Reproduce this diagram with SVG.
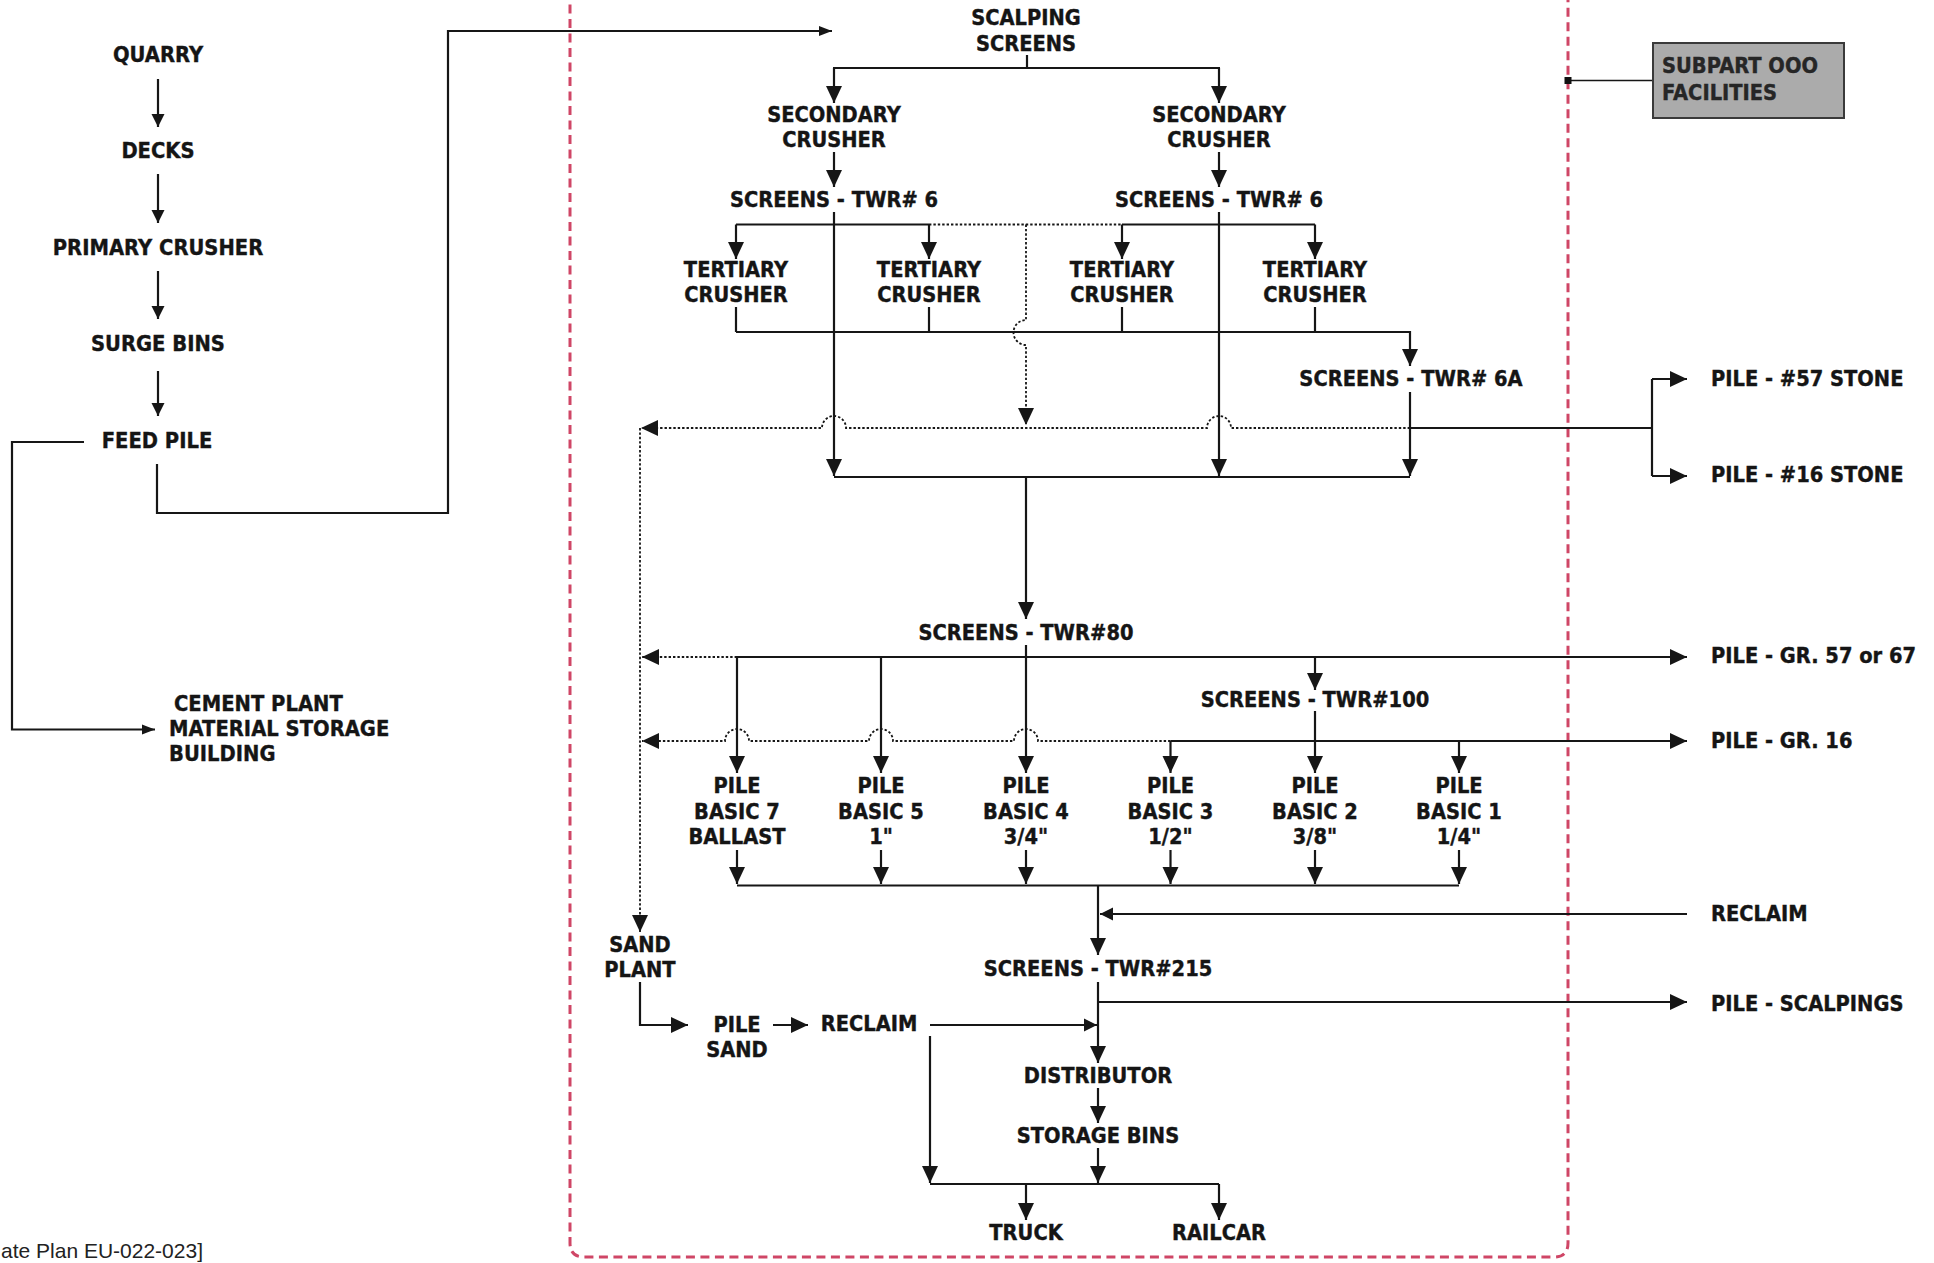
<svg xmlns="http://www.w3.org/2000/svg" width="1934" height="1263" viewBox="0 0 1934 1263">
  <style>
    text { font-family: "DejaVu Sans", "Liberation Sans", sans-serif; font-weight: 700; fill: #151515; stroke: #151515; stroke-width: 0.4px; }
    .m { font-size: 20.5px; text-anchor: middle; transform-box: fill-box; transform-origin: 50% 50%; transform: scaleX(0.95); }
    .l { font-size: 22px; text-anchor: middle; transform-box: fill-box; transform-origin: 50% 50%; transform: scaleX(0.89); }
    .r { font-size: 20.5px; text-anchor: start; transform-box: fill-box; transform-origin: 0 50%; transform: scaleX(0.95); }
    .c { font-size: 22px; text-anchor: start; transform-box: fill-box; transform-origin: 0 50%; transform: scaleX(0.89); }
    .note { font-family: "Liberation Sans", Arial, sans-serif; font-weight: 400; font-size: 21px; fill: #222; stroke: none; }
    .ln { fill: none; stroke: #161616; stroke-width: 2.2; }
    .dt { fill: none; stroke: #161616; stroke-width: 1.8; stroke-dasharray: 2.4 2; }
    .a { marker-end: url(#ah); }
    .as { marker-end: url(#as); }
    .at { marker-end: url(#at); }
    .boundary { fill: none; stroke: #cf4666; stroke-width: 3; stroke-dasharray: 9 5.5; }
  </style>
  <defs>
    <marker id="ah" markerUnits="userSpaceOnUse" markerWidth="18" markerHeight="16" refX="17" refY="8" orient="auto" overflow="visible">
      <path d="M0,0 L17,8 L0,16 Z" fill="#161616"/>
    </marker>
    <marker id="as" markerUnits="userSpaceOnUse" markerWidth="13" markerHeight="13" refX="13" refY="6.5" orient="auto" overflow="visible">
      <path d="M0,0 L13,6.5 L0,13 Z" fill="#161616"/>
    </marker>
    <marker id="at" markerUnits="userSpaceOnUse" markerWidth="13" markerHeight="10" refX="13" refY="5" orient="auto" overflow="visible">
      <path d="M0,0 L13,5 L0,10 Z" fill="#161616"/>
    </marker>
  </defs>

  <rect width="1934" height="1263" fill="#ffffff"/>

  <!-- Subpart OOO boundary -->
  <path class="boundary" d="M570,-10 V1243 Q570,1257 584,1257 H1554 Q1568,1257 1568,1243 V-10"/>

  <!-- connectors -->
  <g id="connectors">
    <!-- left column -->
    <path class="ln as" d="M158,79 V127"/>
    <path class="ln as" d="M158,174 V223"/>
    <path class="ln as" d="M158,271 V319"/>
    <path class="ln as" d="M158,371 V416"/>
    <path class="ln at" d="M84,442 H12 V729.5 H155"/>
    <path class="ln at" d="M157,464 V513 H448 V31 H832"/>

    <!-- scalping to secondary -->
    <path class="ln" d="M1027,55 V68"/>
    <path class="ln" d="M833,68 H1220"/>
    <path class="ln a" d="M834,68 V103"/>
    <path class="ln a" d="M1219,68 V103"/>
    <path class="ln a" d="M834,152 V187"/>
    <path class="ln a" d="M1219,152 V187"/>

    <!-- tower 6 bypass legs -->
    <path class="ln a" d="M834,212 V476"/>
    <path class="ln a" d="M1219,212 V476"/>

    <!-- tertiary feeds -->
    <path class="ln" d="M736,224.5 H929"/>
    <path class="ln" d="M1122,224.5 H1315"/>
    <path class="dt" d="M929,224.5 H1122"/>
    <path class="ln a" d="M736,224.5 V259"/>
    <path class="ln a" d="M929,224.5 V259"/>
    <path class="ln a" d="M1122,224.5 V259"/>
    <path class="ln a" d="M1315,224.5 V259"/>
    <path class="ln" d="M736,307 V332 M929,307 V332 M1122,307 V332 M1315,307 V332"/>
    <path class="ln a" d="M736,332 H1410 V366"/>
    <path class="ln a" d="M1410,392 V476"/>
    <path class="ln" d="M834,477 H1410"/>

    <!-- dotted return lines -->
    <path class="dt a" d="M1026,224.5 V320 A12.5,12.5 0 0 0 1026,345 V425"/>
    <path class="dt a" d="M1410,428 H1231 A12,12 0 0 0 1207,428 H846 A12,12 0 0 0 822,428 H641"/>
    <path class="dt a" d="M640,428 V932"/>

    <!-- tower 6A to stone piles -->
    <path class="ln" d="M1410,428 H1652"/>
    <path class="ln" d="M1652,379 V476"/>
    <path class="ln a" d="M1652,379 H1687"/>
    <path class="ln a" d="M1652,476 H1687"/>

    <!-- tower 80 -->
    <path class="ln a" d="M1026,477 V619"/>
    <path class="ln a" d="M1026,645 V773"/>
    <path class="dt a" d="M737,657 H642"/>
    <path class="ln a" d="M737,657 H1687"/>
    <path class="ln a" d="M737,657 V773"/>
    <path class="ln a" d="M881,657 V773"/>
    <path class="ln a" d="M1315,657 V690"/>
    <path class="ln a" d="M1315,711 V773"/>

    <!-- tower 100 -->
    <path class="dt a" d="M1170.5,741 H1038 A12,12 0 0 0 1014,741 H893 A12,12 0 0 0 869,741 H749 A12,12 0 0 0 725,741 H642"/>
    <path class="ln a" d="M1170.5,741 H1687"/>
    <path class="ln a" d="M1170.5,741 V773"/>
    <path class="ln a" d="M1459,741 V773"/>

    <!-- basic piles to tower 215 -->
    <path class="ln a" d="M737,850 V884"/>
    <path class="ln a" d="M881,850 V884"/>
    <path class="ln a" d="M1026,850 V884"/>
    <path class="ln a" d="M1170.5,850 V884"/>
    <path class="ln a" d="M1315,850 V884"/>
    <path class="ln a" d="M1459,850 V884"/>
    <path class="ln" d="M737,885.5 H1459"/>
    <path class="ln a" d="M1098,885.5 V955"/>
    <path class="ln as" d="M1687,914 H1100"/>
    <path class="ln a" d="M1098,982 V1063"/>
    <path class="ln a" d="M1098,1002 H1687"/>

    <!-- sand circuit -->
    <path class="ln a" d="M640,982 V1025 H688"/>
    <path class="ln a" d="M773,1025 H808"/>
    <path class="ln as" d="M930,1025 H1097"/>
    <path class="ln a" d="M930,1036 V1183"/>

    <!-- loadout -->
    <path class="ln a" d="M1098,1088 V1123"/>
    <path class="ln a" d="M1098,1148 V1183"/>
    <path class="ln" d="M930,1184 H1219"/>
    <path class="ln a" d="M1026,1184 V1220"/>
    <path class="ln a" d="M1219,1184 V1220"/>

    <!-- legend leader -->
    <path class="ln" style="stroke-width:1.6" d="M1568,80.5 H1653"/>
    <rect x="1564.5" y="77" width="7" height="7" fill="#111"/>
  </g>

  <!-- upstream nodes -->
  <g id="quarry"><text class="l" x="158" y="62">QUARRY</text></g>
  <g id="decks"><text class="l" x="158" y="158.5">DECKS</text></g>
  <g id="primary-crusher"><text class="l" x="158" y="255">PRIMARY CRUSHER</text></g>
  <g id="surge-bins"><text class="l" x="158" y="351">SURGE BINS</text></g>
  <g id="feed-pile"><text class="l" x="157" y="448">FEED PILE</text></g>
  <g id="cement-plant">
    <text class="c" x="174" y="711">CEMENT PLANT</text>
    <text class="c" x="169" y="736.5">MATERIAL STORAGE</text>
    <text class="c" x="169" y="761.5">BUILDING</text>
  </g>

  <!-- screening and crushing -->
  <g id="scalping-screens">
    <text class="m" x="1026" y="25">SCALPING</text>
    <text class="m" x="1026" y="51">SCREENS</text>
  </g>
  <g id="secondary-crusher-1">
    <text class="m" x="834" y="122.5">SECONDARY</text>
    <text class="m" x="834" y="147.5">CRUSHER</text>
  </g>
  <g id="secondary-crusher-2">
    <text class="m" x="1219" y="122.5">SECONDARY</text>
    <text class="m" x="1219" y="147.5">CRUSHER</text>
  </g>
  <g id="screens-twr6-1"><text class="m" x="834" y="207.5">SCREENS - TWR# 6</text></g>
  <g id="screens-twr6-2"><text class="m" x="1219" y="207.5">SCREENS - TWR# 6</text></g>
  <g id="tertiary-crusher-1">
    <text class="m" x="736" y="277.5">TERTIARY</text>
    <text class="m" x="736" y="302.5">CRUSHER</text>
  </g>
  <g id="tertiary-crusher-2">
    <text class="m" x="929" y="277.5">TERTIARY</text>
    <text class="m" x="929" y="302.5">CRUSHER</text>
  </g>
  <g id="tertiary-crusher-3">
    <text class="m" x="1122" y="277.5">TERTIARY</text>
    <text class="m" x="1122" y="302.5">CRUSHER</text>
  </g>
  <g id="tertiary-crusher-4">
    <text class="m" x="1315" y="277.5">TERTIARY</text>
    <text class="m" x="1315" y="302.5">CRUSHER</text>
  </g>
  <g id="screens-twr6a"><text class="m" x="1411" y="386">SCREENS - TWR# 6A</text></g>
  <g id="screens-twr80"><text class="m" x="1026" y="640">SCREENS - TWR#80</text></g>
  <g id="screens-twr100"><text class="m" x="1315" y="707.5">SCREENS - TWR#100</text></g>

  <!-- basic piles -->
  <g id="pile-basic-7">
    <text class="m" x="737" y="793">PILE</text>
    <text class="m" x="737" y="819">BASIC 7</text>
    <text class="m" x="737" y="844">BALLAST</text>
  </g>
  <g id="pile-basic-5">
    <text class="m" x="881" y="793">PILE</text>
    <text class="m" x="881" y="819">BASIC 5</text>
    <text class="m" x="881" y="844">1"</text>
  </g>
  <g id="pile-basic-4">
    <text class="m" x="1026" y="793">PILE</text>
    <text class="m" x="1026" y="819">BASIC 4</text>
    <text class="m" x="1026" y="844">3/4"</text>
  </g>
  <g id="pile-basic-3">
    <text class="m" x="1170.5" y="793">PILE</text>
    <text class="m" x="1170.5" y="819">BASIC 3</text>
    <text class="m" x="1170.5" y="844">1/2"</text>
  </g>
  <g id="pile-basic-2">
    <text class="m" x="1315" y="793">PILE</text>
    <text class="m" x="1315" y="819">BASIC 2</text>
    <text class="m" x="1315" y="844">3/8"</text>
  </g>
  <g id="pile-basic-1">
    <text class="m" x="1459" y="793">PILE</text>
    <text class="m" x="1459" y="819">BASIC 1</text>
    <text class="m" x="1459" y="844">1/4"</text>
  </g>

  <!-- sand and loadout -->
  <g id="sand-plant">
    <text class="m" x="640" y="952">SAND</text>
    <text class="m" x="640" y="977.5">PLANT</text>
  </g>
  <g id="pile-sand">
    <text class="m" x="737" y="1032.5">PILE</text>
    <text class="m" x="737" y="1057.5">SAND</text>
  </g>
  <g id="reclaim-sand"><text class="m" x="869" y="1031.5">RECLAIM</text></g>
  <g id="screens-twr215"><text class="m" x="1098" y="976.5">SCREENS - TWR#215</text></g>
  <g id="distributor"><text class="m" x="1098" y="1083">DISTRIBUTOR</text></g>
  <g id="storage-bins"><text class="m" x="1098" y="1143">STORAGE BINS</text></g>
  <g id="truck"><text class="m" x="1026" y="1240">TRUCK</text></g>
  <g id="railcar"><text class="m" x="1219" y="1240">RAILCAR</text></g>

  <!-- outside piles -->
  <g id="pile-57-stone"><text class="r" x="1711" y="386">PILE - #57 STONE</text></g>
  <g id="pile-16-stone"><text class="r" x="1711" y="482.5">PILE - #16 STONE</text></g>
  <g id="pile-gr-57-67"><text class="r" x="1711" y="663.5">PILE - GR. 57 or 67</text></g>
  <g id="pile-gr-16"><text class="r" x="1711" y="748.5">PILE - GR. 16</text></g>
  <g id="reclaim"><text class="r" x="1711" y="921.5">RECLAIM</text></g>
  <g id="pile-scalpings"><text class="r" x="1711" y="1011.5">PILE - SCALPINGS</text></g>

  <!-- legend -->
  <g id="subpart-ooo-legend">
    <rect x="1653" y="43" width="191" height="75" fill="#ababab" stroke="#3a3a3a" stroke-width="2"/>
    <text class="r" x="1662" y="73" style="fill:#262626;stroke:#262626">SUBPART OOO</text>
    <text class="r" x="1662" y="100.5" style="fill:#262626;stroke:#262626">FACILITIES</text>
  </g>

  <text class="note" x="1" y="1258">ate Plan EU-022-023]</text>
</svg>
